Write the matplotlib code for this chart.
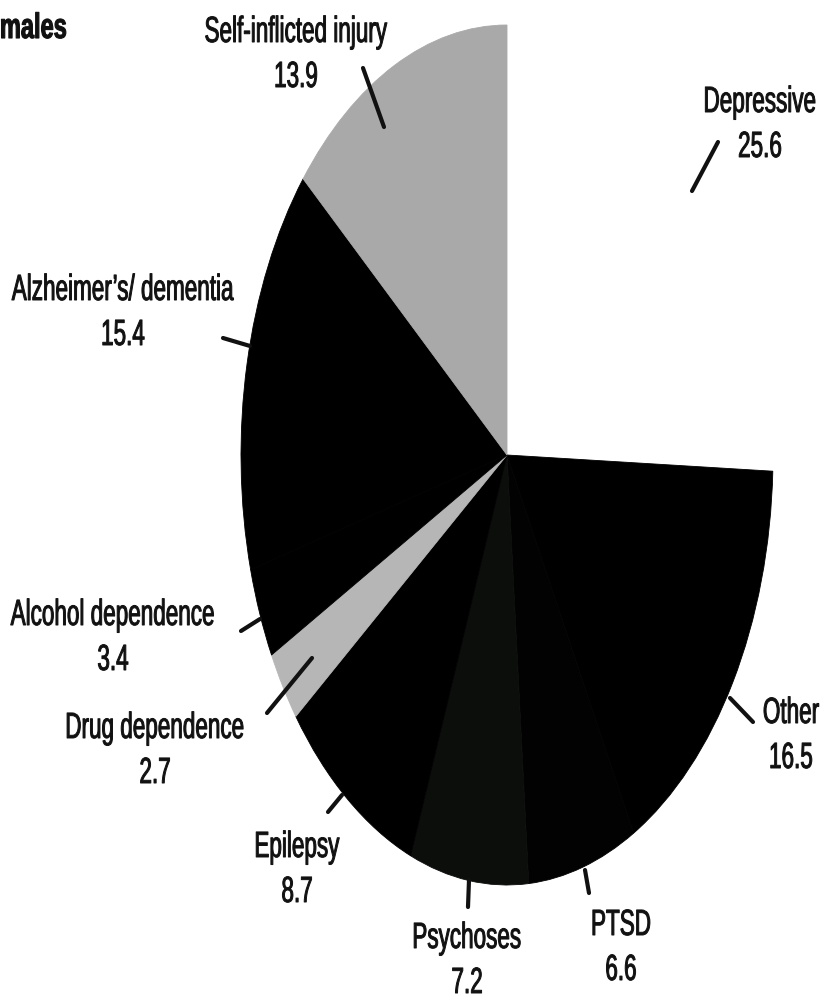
import matplotlib
matplotlib.use("Agg")
import matplotlib.pyplot as plt
from matplotlib.patheffects import AbstractPathEffect
from matplotlib.transforms import Affine2D

plt.rcParams['font.family'] = ['Liberation Sans', 'DejaVu Sans']

# slices, clockwise from 12 o'clock
LABELS = ['Depressive', 'Other', 'PTSD', 'Psychoses', 'Epilepsy',
          'Drug dependence', 'Alcohol dependence', 'Alzheimer\u2019s/ dementia',
          'Self-inflicted injury']
SHARES = [25.6, 16.5, 6.6, 7.2, 8.7, 2.7, 3.4, 15.4, 13.9]
COLORS = ['#ffffff', '#000000', '#020202', '#0c0e0c', '#000000',
          '#b6b6b6', '#000000', '#000000', '#a9a9a9']

# label centre x and baseline y (px from top-left), leader line ends (px)
LABEL_POS = [(760, 112), (791, 723), (621, 935), (467, 948), (297, 857),
             (155, 738), (113, 625), (123, 300), (296, 42)]
LEADERS = [((718, 142), (692, 191)), ((730, 698), (753, 722)),
           ((585, 870), (589, 893)), ((469, 880), (468, 907)),
           ((328, 812), (342, 795)), ((267, 713), (312, 658)),
           ((241, 631), (260, 619)), ((223, 338), (250, 346)),
           ((363, 68), (384, 127))]

W, H = 823, 997
CX, CY, RX, RY = 507, 455, 266, 430


class Tall(AbstractPathEffect):
    """stretch glyphs upward from the baseline and thicken them a bit"""
    def __init__(self, sy, stroke=0.0):
        super().__init__()
        self.sy = sy
        self.stroke = stroke

    def draw_path(self, renderer, gc, tpath, affine, rgbFace=None):
        gc0 = renderer.new_gc()
        gc0.copy_properties(gc)
        gc0.set_linewidth(self.stroke)
        if rgbFace is not None:
            gc0.set_foreground(rgbFace)
        renderer.draw_path(gc0, tpath, Affine2D().scale(1, self.sy) + affine,
                           rgbFace)
        gc0.restore()


fig = plt.figure(figsize=(W / 100, H / 100), dpi=100)

ax = fig.add_axes([0, 0, 1, 1])
wedges, _ = ax.pie(SHARES, colors=COLORS, startangle=90, counterclock=False)
for w in wedges:
    w.set_edgecolor(w.get_facecolor())
    w.set_linewidth(0.6)
ax.set_aspect('auto')
ax.set_xlim(-CX / RX, (W - CX) / RX)
ax.set_ylim(-(H - CY) / RY, CY / RY)
ax.axis('off')

top = fig.add_axes([0, 0, 1, 1])
top.set_xlim(0, W)
top.set_ylim(H, 0)
top.axis('off')

tall = [Tall(1.62, 0.7)]
for lab, val, (x, y), (p0, p1) in zip(LABELS, SHARES, LABEL_POS, LEADERS):
    top.text(x, y, lab, ha='center', va='baseline', fontsize=16.2,
             color='#111111', path_effects=tall)
    top.text(x, y + 45, f'{val}', ha='center', va='baseline', fontsize=16.2,
             color='#111111', path_effects=tall)
    top.plot([p0[0], p1[0]], [p0[1], p1[1]], color='#111111', lw=3,
             solid_capstyle='round')

top.text(67, 38, 'males', ha='right', va='baseline', fontsize=17,
         fontweight='bold', color='#111111', path_effects=[Tall(1.5, 0.8)])

fig.savefig('out.png', dpi=100)
